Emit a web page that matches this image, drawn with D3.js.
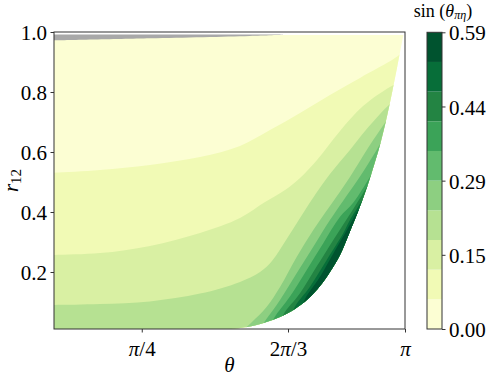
<!DOCTYPE html>
<html>
<head>
<meta charset="utf-8">
<script src="https://cdn.jsdelivr.net/npm/d3@7"></script>
<style>
  body { margin: 0; background: #fff; }
  svg text { font-family: "Liberation Serif", "DejaVu Serif", serif; fill: #000; }
</style>
</head>
<body>
<script>
// contour levels of sin(theta_pi_eta): 10 filled bands
var levels = [0, 0.059, 0.118, 0.177, 0.236, 0.295, 0.354, 0.413, 0.472, 0.531, 0.59];
var cbTicks = [0, 0.1475, 0.295, 0.4425, 0.59];
var cbTickLabels = ["0.00", "0.15", "0.29", "0.44", "0.59"];
var xTicks = [Math.PI / 4, 2 * Math.PI / 3, Math.PI];
var xTickLabels = [["π", "/4"], ["2", "π", "/3"], ["π"]];
var yTicks = [0.2, 0.4, 0.6, 0.8, 1.0];
var yTickLabels = ["0.2", "0.4", "0.6", "0.8", "1.0"];

// edge of the region that has data, [theta, r12], bottom to top
var edge = [[1.593, 0.010], [1.754, 0.018], [1.889, 0.032], [2.023, 0.050], [2.157, 0.077],
  [2.273, 0.110], [2.381, 0.153], [2.470, 0.200], [2.560, 0.257], [2.640, 0.327],
  [2.730, 0.410], [2.805, 0.487], [2.870, 0.563], [2.927, 0.637], [2.981, 0.720],
  [3.025, 0.797], [3.070, 0.880], [3.115, 0.967], [3.128, 0.990]];

// level curves, levels[1] .. levels[9]
var curve1 = [[0, 0.531], [0.412, 0.540], [0.859, 0.557], [1.307, 0.583], [1.665, 0.620],
  [1.933, 0.673], [2.202, 0.730], [2.470, 0.790], [2.739, 0.847], [3.052, 0.913], [3.142, 0.940]];
var curve2 = [[0, 0.257], [0.412, 0.263], [0.859, 0.287], [1.307, 0.330], [1.665, 0.380],
  [1.889, 0.433], [2.068, 0.473], [2.202, 0.513], [2.354, 0.573], [2.560, 0.670],
  [2.766, 0.753], [3.007, 0.817], [3.142, 0.840]];
var curve3 = [[0, 0.090], [0.412, 0.093], [0.859, 0.102], [1.307, 0.128], [1.665, 0.167],
  [1.844, 0.200], [1.951, 0.237], [2.077, 0.307], [2.202, 0.380], [2.318, 0.447],
  [2.470, 0.527], [2.649, 0.607], [2.784, 0.670], [2.918, 0.727], [3.007, 0.760], [3.142, 0.800]];
var curve4 = [[1.683, 0.003], [1.772, 0.033], [1.904, 0.084], [2.023, 0.150], [2.172, 0.250],
  [2.321, 0.340], [2.470, 0.420], [2.649, 0.517], [2.799, 0.607], [2.918, 0.673], [3.052, 0.747]];
var curve5 = [[1.826, 0.003], [1.889, 0.037], [2.023, 0.107], [2.172, 0.196], [2.321, 0.284],
  [2.470, 0.373], [2.587, 0.437], [2.739, 0.518], [2.888, 0.607], [3.007, 0.680]];
var curve6 = [[1.915, 0.003], [1.969, 0.046], [2.112, 0.118], [2.262, 0.207], [2.410, 0.296],
  [2.560, 0.384], [2.676, 0.430], [2.828, 0.517], [2.963, 0.600]];
var curve7 = [[2.005, 0.003], [2.052, 0.057], [2.202, 0.129], [2.351, 0.218], [2.500, 0.307],
  [2.634, 0.384], [2.757, 0.457], [2.900, 0.540]];
var curve8 = [[2.121, 0.000], [2.142, 0.073], [2.291, 0.151], [2.441, 0.240], [2.589, 0.329],
  [2.649, 0.373], [2.784, 0.453]];
var curve9 = [[2.211, 0.000], [2.231, 0.096], [2.381, 0.184], [2.500, 0.262], [2.605, 0.329],
  [2.721, 0.407]];
var curves = [curve1, curve2, curve3, curve4, curve5, curve6, curve7, curve8, curve9];

// grey strip along the top edge (lower border), top sits at r12 = 0.992
var grayEdge = [[0, 0.972], [0.86, 0.979], [1.75, 0.987], [2.05, 0.991]];

// matplotlib YlGn anchors
var ylgn = ["#ffffe5", "#f7fcb9", "#d9f0a3", "#addd8e", "#78c679", "#41ab5d", "#238443", "#006837", "#004529"];

window.onload = function () {
  var w = 488, h = 381;
  var svg = d3.select("body").append("svg")
    .attr("width", w)
    .attr("height", h);

  var x = d3.scaleLinear().domain([0, Math.PI]).range([54, 405]);
  var y = d3.scaleLinear().domain([0.01, 1.0]).range([329, 32]);

  var cmap = d3.scaleLinear()
    .domain(d3.range(9).map(function (i) { return i / 8; }))
    .range(ylgn);
  var vmax = levels[levels.length - 1];
  var bandColor = function (i) {
    return cmap((levels[i] + levels[i + 1]) / 2 / vmax);
  };

  var smooth = d3.line()
    .x(function (d) { return x(d[0]); })
    .y(function (d) { return y(d[1]); })
    .curve(d3.curveCatmullRom.alpha(0.5));

  // clip to the region with data
  var top = 0.99;
  var clipD = "M" + x(0) + "," + y(0.01) + "L" + x(0) + "," + y(top) +
    "L" + x(edge[edge.length - 1][0]) + "," + y(top) +
    "L" + smooth(edge.slice().reverse()).slice(1) + "Z";
  svg.append("clipPath").attr("id", "dataClip")
    .append("path").attr("d", clipD);

  var plot = svg.append("g").attr("clip-path", "url(#dataClip)");

  plot.append("rect")
    .attr("x", x(0) - 5).attr("y", y(1.05))
    .attr("width", x(Math.PI) - x(0) + 10).attr("height", y(-0.05) - y(1.05))
    .style("fill", bandColor(0));

  plot.selectAll(".band")
    .data(curves)
    .enter()
    .append("path")
    .attr("class", "band")
    .attr("d", function (c) {
      var pts = c.slice();
      if (pts[0][0] <= 0) pts.unshift([-0.1, pts[0][1]]);
      var last = pts[pts.length - 1];
      return smooth(pts) +
        "L" + x(3.3) + "," + y(last[1]) +
        "L" + x(3.3) + "," + y(-0.1) +
        "L" + x(pts[0][0]) + "," + y(-0.1) + "Z";
    })
    .style("fill", function (c, i) { return bandColor(i + 1); });

  // grey strip at the top
  var grayD = "M" + x(0) + "," + y(0.992) + "L" + x(grayEdge[grayEdge.length - 1][0]) + "," + y(0.992) +
    "L" + smooth(grayEdge.slice().reverse()).slice(1) + "Z";
  svg.append("path").attr("d", grayD).style("fill", "#a8a8a8");

  // axes
  var fs = 21;
  var yAxis = svg.append("g")
    .attr("transform", "translate(" + x(0) + ",0)")
    .call(d3.axisLeft(y).tickValues(yTicks).tickSize(3.5).tickPadding(3.5)
      .tickFormat(function (d, i) { return yTickLabels[i]; }));
  yAxis.select(".domain").remove();
  yAxis.selectAll("text").attr("font-size", fs).attr("font-family", null).attr("dy", "0.36em");
  yAxis.selectAll("line").attr("stroke", "#333");

  var xAxis = svg.append("g")
    .attr("transform", "translate(0," + y(0.01) + ")")
    .call(d3.axisBottom(x).tickValues(xTicks).tickSize(3.5).tickPadding(3.5)
      .tickFormat(function () { return ""; }));
  xAxis.select(".domain").remove();
  xAxis.selectAll("line").attr("stroke", "#333");
  xAxis.selectAll(".tick text")
    .attr("font-size", fs).attr("font-family", null).attr("dy", "0.95em")
    .each(function (d, i) {
      var t = d3.select(this);
      xTickLabels[i].forEach(function (s) {
        t.append("tspan").text(s).style("font-style", s === "π" ? "italic" : "normal");
      });
    });

  // frame
  svg.append("rect")
    .attr("x", x(0)).attr("y", y(1.0))
    .attr("width", x(Math.PI) - x(0)).attr("height", y(0.01) - y(1.0))
    .style("fill", "none").style("stroke", "#333").style("stroke-width", 1);

  // axis labels
  svg.append("text")
    .attr("x", (x(0) + x(Math.PI)) / 2).attr("y", 372)
    .attr("text-anchor", "middle").attr("font-size", fs)
    .style("font-style", "italic").text("θ");

  var yl = svg.append("text")
    .attr("transform", "translate(18," + (y(0.01) + y(1.0)) / 2 + ") rotate(-90)")
    .attr("text-anchor", "middle").attr("font-size", fs);
  yl.append("tspan").style("font-style", "italic").text("r");
  yl.append("tspan").attr("font-size", 15).attr("dy", 3).text("12");

  // colorbar
  var cbx = 427, cbw = 15;
  var cy = d3.scaleLinear().domain([0, vmax]).range([329, 32.3]);
  var cb = svg.append("g");
  cb.selectAll(".cbBand")
    .data(levels.slice(0, -1))
    .enter()
    .append("rect")
    .attr("class", "cbBand")
    .attr("x", cbx)
    .attr("y", function (d, i) { return cy(levels[i + 1]); })
    .attr("width", cbw)
    .attr("height", function (d, i) { return cy(levels[i]) - cy(levels[i + 1]); })
    .style("fill", function (d, i) { return bandColor(i); });
  cb.append("rect")
    .attr("x", cbx).attr("y", cy(vmax))
    .attr("width", cbw).attr("height", cy(0) - cy(vmax))
    .style("fill", "none").style("stroke", "#333").style("stroke-width", 1);

  var cAxis = svg.append("g")
    .attr("transform", "translate(" + (cbx + cbw) + ",0)")
    .call(d3.axisRight(cy).tickValues(cbTicks).tickSize(3.5).tickPadding(3.5)
      .tickFormat(function (d, i) { return cbTickLabels[i]; }));
  cAxis.select(".domain").remove();
  cAxis.selectAll("text").attr("font-size", fs).attr("font-family", null).attr("dy", "0.36em");
  cAxis.selectAll("line").attr("stroke", "#333");

  var ct = svg.append("text")
    .attr("x", 443).attr("y", 17)
    .attr("text-anchor", "middle").attr("font-size", 18);
  ct.append("tspan").text("sin (");
  ct.append("tspan").style("font-style", "italic").text("θ");
  ct.append("tspan").style("font-style", "italic").attr("font-size", 12).attr("dy", 1.5).text("πη");
  ct.append("tspan").attr("dy", -1.5).text(")");
};
</script>
</body>
</html>
